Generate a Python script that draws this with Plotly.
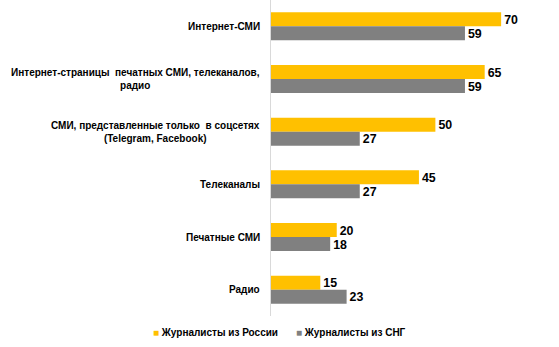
import plotly.graph_objects as go

categories = [
    "Интернет-СМИ",
    "Интернет-страницы  печатных СМИ, телеканалов,<br>радио",
    "СМИ, представленные только  в соцсетях<br>(Telegram, Facebook)",
    "Телеканалы",
    "Печатные СМИ",
    "Радио",
]
russia = [70, 65, 50, 45, 20, 15]
cis = [59, 59, 27, 27, 18, 23]
series_names = ["Журналисты из России", "Журналисты из СНГ"]
colors = ["#FFC000", "#808080"]

PLOT_W = 263
fig = go.Figure()
for name, vals, col in zip(series_names, [russia, cis], colors):
    fig.add_trace(go.Bar(
        y=list(range(len(categories))), x=vals, orientation="h", name=name,
        marker=dict(color=col, line=dict(width=0)),
        text=[str(v) for v in vals], textposition="outside", cliponaxis=False,
        textfont=dict(family="Liberation Sans Narrow, Liberation Sans", size=15, color="#000000"),
        texttemplate="<b>%{text}</b>", showlegend=False,
    ))

for i, c in enumerate(categories):
    fig.add_annotation(
        x=0, xref="paper", xshift=-9, y=i, yref="y", text="<b>" + c + "</b>",
        showarrow=False, xanchor="right", yanchor="middle", align="center",
        font=dict(family="Liberation Sans", size=10, color="#000000"),
    )

# legend built as annotations (small square + bold label)
legend_left_px = [151, 294]
for name, col, lx in zip(series_names, colors, legend_left_px):
    fig.add_annotation(
        x=(lx - 271) / PLOT_W, xref="paper", y=0, yref="paper", yshift=-16,
        text='<span style="color:%s">■</span> <b>%s</b>' % (col, name),
        showarrow=False, xanchor="left", yanchor="middle", align="left",
        font=dict(family="Liberation Sans", size=10, color="#000000"),
    )

fig.update_layout(
    width=559, height=347,
    margin=dict(l=271, r=25, t=0, b=31),
    paper_bgcolor="white", plot_bgcolor="white",
    barmode="group", bargap=0.468, bargroupgap=0,
    xaxis=dict(range=[0, 80], showgrid=False, showticklabels=False, zeroline=False,
               showline=False, ticks=""),
    yaxis=dict(range=[5.5, -0.5], showgrid=False, showticklabels=False, ticks="",
               showline=True, linecolor="#D9D9D9", linewidth=1, zeroline=False),
    showlegend=False,
    font=dict(family="Liberation Sans"),
)

fig.write_html("out.html")
